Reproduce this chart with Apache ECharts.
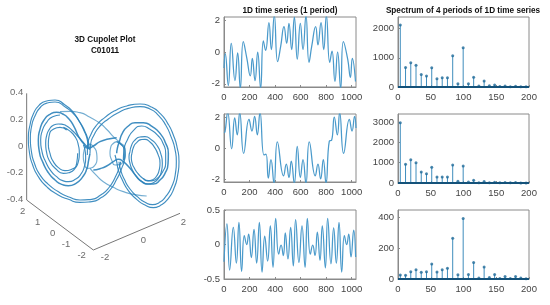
<!DOCTYPE html>
<html><head><meta charset="utf-8">
<style>html,body{margin:0;padding:0;background:#fff}#c{width:550px;height:305px}</style>
<script src="https://cdn.jsdelivr.net/npm/echarts@6/dist/echarts.min.js"></script>
</head><body><div id="c"></div>
<script>
// ---- 1D time series: sample index, amplitude at turning points
const t1=[0,10,34,57,86,107,128,151,178,206,222,243,264,287,308,326,352,371,394,420,444,470,491,509,530,551,574,598,619,642,666,687,718,736,760,781,802,828,846,869,890,914,935,969,990,1005,1030];
const y1=[-1,-0.1,-2.1,0.55,-1.8,-0.05,-2.3,0.65,-0.35,-1.5,-0.4,-1.8,0,-2.3,0.7,0.1,1.85,0.15,2.3,-0.6,0.35,1.6,0.55,1.8,0.15,2.2,-0.45,1.8,0.15,2.3,-0.65,0.35,1.6,0.45,1.85,0.15,2.3,-0.65,0.05,-1.85,0,-2.3,0.65,-0.45,-1.6,-0.4,-1.85];
const t2=[0,8,29,60,84,104,123,154,196,219,240,261,282,313,329,347,368,392,418,467,488,509,527,551,574,598,619,642,668,715,736,757,778,799,825,843,864,888,906,937,982,1003,1023,1034];
const y2=[1,1.05,2.3,-0.05,1.95,0.85,2.3,-0.35,1.85,1.1,2.05,0.85,2.3,-0.45,-0.4,-1.95,-0.75,-2.3,0.4,-1.8,-1.05,-1.9,-0.85,-2.3,0.1,-1.9,-0.75,-2.3,0.4,-1.8,-1.05,-2,-0.75,-2.3,0.45,0.5,2,0.85,2.3,-0.35,1.85,1.1,2.05,1.3];
const t3=[0,23,44,73,97,117,138,159,178,193,214,235,256,277,298,319,342,363,384,405,428,447,465,480,501,522,543,561,587,611,635,653,676,695,713,731,752,770,794,812,838,859,880,901,922,943,961,977,995,1016,1031];
const y3=[-0.25,0.3,-0.37,0.25,-0.27,0.32,-0.39,0.13,0,0.15,-0.19,0.22,-0.27,0.32,-0.4,0.12,-0.24,0.27,-0.33,0.38,-0.14,-0.01,-0.16,0.17,-0.21,0.25,-0.31,0.36,-0.26,0.27,-0.33,0.38,-0.14,-0.01,-0.16,0.18,-0.23,0.27,-0.34,0.38,-0.28,0.24,-0.27,0.32,-0.4,0.13,0,0.15,-0.18,0.21,-0.18];
// ---- spectra: harmonic position and magnitude
const harmonics=[3.5,11.5,19.5,27.5,35.5,43.5,51.5,59.5,67.5,75.5,83.5,91.5,99.5,107.5,115.5,123.5,131.5,139.5,147.5,155.5,163.5,171.5,179.5,187.5,195.5];
const spec1=[2130,670,830,750,430,380,660,280,320,320,1075,115,1350,115,335,35,210,40,70,15,35,10,30,10,5];
const spec2=[2970,925,1150,1000,545,460,775,300,300,300,890,85,840,50,130,15,70,15,35,10,30,10,30,5,5];
const spec3=[26,24,48,60,44,48,98,46,60,70,265,28,395,30,108,7,78,9,30,4,17,4,17,7,2];
// ---- tick labels
const timeTicks=[0,200,400,600,800,1000];
const specTicks=[0,50,100,150,200];
const yTicks1=[-2,0,2], yTicks3=[-0.5,0,0.5];
const sTicks1=[0,1000,2000], sTicks2=[0,1000,2000,3000], sTicks3=[0,200,400];
// ---- 3D plot: curve as read in the projected view plane
const outerL1=[[265,325],[262,300],[252,272],[237,243],[218,215],[195,195],[165,180],[140,183],[118,195],[100,222],[90,255],[85,295],[88,335],[98,375],[115,410],[140,440],[170,462],[205,478],[240,487],[275,485],[305,472],[330,450],[350,418],[365,385],[373,355],[372,330],[362,312],[350,305]];
const outerL2=[[268,330],[264,300],[255,275],[240,247],[221,222],[197,202],[165,186],[142,189],[122,201],[105,228],[95,258],[91,295],[94,333],[104,372],[120,405],[145,433],[173,454],[207,471],[240,480],[275,478],[302,465],[326,444],[345,413],[358,382],[362,365]];
const outerR1=[[262,345],[263,315],[272,285],[290,255],[315,232],[345,212],[380,198],[420,192],[452,200],[480,220],[503,250],[520,285],[532,325],[537,365],[533,405],[522,445],[503,478],[480,497],[460,503],[435,495],[410,478],[385,452],[367,420],[355,390],[350,365],[345,345]];
const outerR2=[[270,340],[272,312],[282,285],[300,258],[325,237],[355,218],[385,205],[420,200],[450,207],[476,227],[497,255],[513,290],[525,328],[529,365],[526,402],[515,440],[497,470],[477,488],[458,494],[435,487],[412,470],[390,447],[373,418],[362,390],[357,365]];
const midL=[[350,293],[325,297],[300,305],[280,318],[265,325],[250,310],[235,288],[222,260],[205,235],[188,222],[170,217],[150,223],[132,240],[120,268],[115,300],[118,335],[130,370],[145,398],[165,420],[185,433],[205,437],[228,430],[247,412],[260,388],[266,360],[270,340]];
const midR=[[280,390],[300,386],[320,378],[340,365],[355,358],[370,365],[390,385],[408,408],[425,425],[443,432],[460,432],[480,420],[495,400],[504,372],[505,340],[497,310],[480,280],[457,260],[430,248],[405,248],[385,258],[368,278],[358,305],[352,325],[350,340]];
const midL2=[[180,225],[158,230],[140,247],[127,272],[122,300],[126,335],[137,365],[152,392],[170,410],[188,422],[205,425],[226,418],[243,402],[253,380],[257,355],[255,330],[250,315]];
const midR2=[[370,360],[372,330],[382,300],[400,272],[425,258],[450,268],[475,288],[490,312],[497,340],[497,370],[488,395],[475,412],[458,422],[443,423],[430,415]];
const innerL=[[265,325],[248,305],[230,285],[215,270],[200,258],[188,253],[175,252],[160,256],[148,268],[140,287],[137,310],[140,338],[150,365],[168,387],[190,400],[210,397],[225,385],[235,365],[238,340],[235,315],[225,290],[208,272],[190,262]];
const innerL2=[[200,270],[180,262],[160,268],[148,285],[145,312],[150,340],[160,365],[178,385],[195,392],[215,388],[230,370],[233,340]];
const innerR=[[390,335],[395,315],[405,300],[420,291],[435,290],[455,300],[470,315],[482,340],[487,370],[484,395],[475,415],[460,428],[445,432],[427,425],[410,410],[397,390],[390,370],[387,350],[390,335]];
const innerR2=[[396,340],[401,320],[410,308],[423,299],[435,298],[450,306],[462,320],[474,343],[480,370],[477,392],[470,408],[458,419],[445,422],[430,416],[415,402],[404,386],[396,368],[394,352],[396,340]];
const crossA=[[180,215],[210,214],[240,218],[270,232],[300,250],[322,270],[340,290],[360,308],[375,325],[376,345],[370,360]];
const crossB=[[270,385],[290,407],[310,425],[340,442],[370,455],[405,464],[440,468]];
const centerL=[[270,312],[282,322],[290,340],[291,358],[285,375],[273,384],[262,385],[253,370],[250,350],[252,333],[258,320],[270,312]];
const centerR=[[350,305],[365,315],[375,330],[376,348],[370,365],[358,374],[345,375],[335,360],[330,340],[332,323],[338,312],[350,305]];
const loops=[outerL1,outerL2,outerR1,outerR2,midL,midR,midL2,midR2,innerL,innerL2,innerR,innerR2,crossA,crossB,centerL,centerR];
const box=[[80,160],[80,480],[280,630],[540,520]];
const viewLabels=[['0.4',50,157],['0.2',50,238],['0',62,318],['-0.2',45,398],['-0.4',45,477],['2',68,513],['1',113,548],['0',158,580],['-1',198,612],['-2',245,647],['-2',315,652],['0',430,600],['2',550,548]];

const LINE='#4a9acb', FRAME='#8a8a8a', TXT='#444', FONT='"Liberation Sans",Arial,sans-serif';
const grids=[], xAxes=[], yAxes=[], series=[];
function panel(left,top,width,height,xr,yr,xt,yt){
  const i=grids.length;
  grids.push({left,top,width,height,show:true,borderColor:FRAME,borderWidth:1,backgroundColor:'#fff'});
  const ax=(ticks,range,type)=>({type:'value',gridIndex:i,min:range[0],max:range[1],splitLine:{show:false},
    axisLine:{onZero:false,lineStyle:{color:FRAME}},axisTick:{inside:true,length:2,lineStyle:{color:FRAME},customValues:ticks},
    axisLabel:{color:TXT,fontSize:9.5,fontFamily:FONT,margin:type=='x'?5:4,customValues:ticks,formatter:v=>String(v)}});
  xAxes.push(ax(xt,xr,'x')); yAxes.push(ax(yt,yr,'y'));
  return i;
}
function timePanel(top,height,ts,ys,yr,yt){
  const i=panel(224,top,132,height,[0,1034],yr,timeTicks,yt);
  series.push({type:'line',xAxisIndex:i,yAxisIndex:i,data:ts.map((t,k)=>[t,ys[k]]),smooth:0.5,symbol:'none',lineStyle:{color:LINE,width:1.25},z:3});
}
function specPanel(top,height,vals,ymax,yt){
  const i=panel(398,top,131,height,[0,200],[0,ymax],specTicks,yt);
  const d=harmonics.map((h,k)=>[h,vals[k]]);
  series.push({type:'bar',xAxisIndex:i,yAxisIndex:i,data:d,barWidth:1,itemStyle:{color:'#3f8dbd'},z:3});
  series.push({type:'scatter',xAxisIndex:i,yAxisIndex:i,data:d,symbolSize:3,itemStyle:{color:'#1f6a98'},z:4});
  series.push({type:'line',xAxisIndex:i,yAxisIndex:i,data:[[0,0],[200,0]],symbol:'none',clip:false,lineStyle:{color:'#14527a',width:2},z:5});
}
timePanel(17,70,t1,y1,[-2.2,2.2],yTicks1);
timePanel(114,68,t2,y2,[-2.2,2.2],yTicks1);
timePanel(210,69,t3,y3,[-0.5,0.5],yTicks3);
specPanel(17,70,spec1,2400,sTicks1);
specPanel(114,69,spec2,3400,sTicks2);
specPanel(210,69,spec3,450,sTicks3);

// 3D panel: plain view plane with hidden scales
const v=grids.length;
grids.push({left:0,top:40,width:210,height:230});
xAxes.push({type:'value',gridIndex:v,min:0,max:630,show:false});
yAxes.push({type:'value',gridIndex:v,min:0,max:690,inverse:true,show:false});
series.push({type:'line',xAxisIndex:v,yAxisIndex:v,data:box,symbol:'none',lineStyle:{color:'#777',width:1},z:2});
loops.forEach((l,k)=>series.push({type:'line',xAxisIndex:v,yAxisIndex:v,data:l,smooth:0.6,symbol:'none',
  lineStyle:{color:'#2b82ba',width:k>=4&&k<=5?1.5:1.15,opacity:k>=12?0.65:0.9},z:3}));
series.push({type:'scatter',xAxisIndex:v,yAxisIndex:v,symbolSize:0,silent:true,
  data:viewLabels.map(l=>({name:l[0],value:[l[1],l[2]]})),
  label:{show:true,position:'inside',formatter:'{b}',color:TXT,fontSize:9.5,fontFamily:FONT},z:4});

const titleStyle={fontFamily:FONT,fontWeight:'bold',fontSize:8.2,color:'#111'};
const titles=[
  {text:'3D Cupolet Plot',left:105,top:36,textAlign:'center',textStyle:titleStyle},
  {text:'C01011',left:105,top:47,textAlign:'center',textStyle:titleStyle},
  {text:'1D time series (1 period)',left:290,top:7,textAlign:'center',textStyle:titleStyle},
  {text:'Spectrum of 4 periods of 1D time series',left:463,top:7,textAlign:'center',textStyle:titleStyle}
].map(t=>Object.assign(t,{padding:0}));
const chart=echarts.init(document.getElementById('c'),null,{renderer:'canvas'});
chart.setOption({animation:false,backgroundColor:'#fff',title:titles,grid:grids,xAxis:xAxes,yAxis:yAxes,series});
</script></body></html>
